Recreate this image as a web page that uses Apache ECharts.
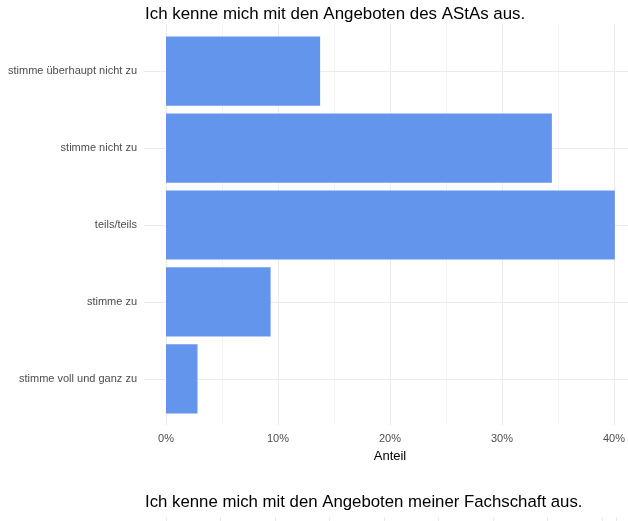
<!DOCTYPE html>
<html><head><meta charset="utf-8">
<script src="https://cdn.jsdelivr.net/npm/echarts@6/dist/echarts.min.js"></script>
<style>html,body{margin:0;padding:0;background:#fff}#c{width:628px;height:521px}</style>
</head><body><div id="c"></div>
<script>
const categories = ['stimme überhaupt nicht zu','stimme nicht zu','teils/teils','stimme zu','stimme voll und ganz zu'];
const values = [13.7, 34.3, 39.9, 9.3, 2.8];
const titleText = 'Ich kenne mich mit den Angeboten des AStAs aus.';
const nextTitleText = 'Ich kenne mich mit den Angeboten meiner Fachschaft aus.';
const FONT = 'Liberation Sans, Arial, sans-serif';
const chart = echarts.init(document.getElementById('c'), null, {renderer:'canvas'});
chart.setOption({
  animation:false,
  backgroundColor:'#fff',
  title:[
    {text:titleText,left:145,top:6,padding:0,textStyle:{fontFamily:FONT,fontSize:16.9,fontWeight:'normal',color:'#000'}},
    {text:nextTitleText,left:145,top:494,padding:0,textStyle:{fontFamily:FONT,fontSize:16.8,fontWeight:'normal',color:'#000'}}
  ],
  grid:[
    {left:166,right:12,top:32.7,bottom:103.7},
    {left:166,right:12,top:24,bottom:96},
    {left:166,right:12,top:517,bottom:-60}
  ],
  xAxis:[
    {gridIndex:0,type:'value',min:0,max:40,show:false},
    {gridIndex:1,type:'value',min:0,max:40,interval:10,
     axisLine:{show:false},axisTick:{show:false},
     axisLabel:{formatter:'{value}%',color:'#4d4d4d',fontFamily:FONT,fontSize:11,margin:8},
     splitLine:{show:true,lineStyle:{color:'#ebebeb',width:1}},
     minorTick:{show:false,splitNumber:2},
     minorSplitLine:{show:true,lineStyle:{color:'#f4f4f4',width:1}},
     name:'Anteil',nameLocation:'middle',nameGap:25,
     nameTextStyle:{color:'#000',fontFamily:FONT,fontSize:13}},
    {gridIndex:2,type:'value',min:0,max:8.26,interval:1,
     axisLine:{show:false},axisTick:{show:false},axisLabel:{show:false},
     splitLine:{show:true,lineStyle:{color:'#ebebeb',width:1}}}
  ],
  yAxis:[
    {gridIndex:0,type:'category',data:categories,inverse:true,
     axisLine:{show:false},
     axisTick:{show:true,alignWithLabel:true,inside:true,length:470,lineStyle:{color:'#ebebeb'}},
     axisLabel:{color:'#4d4d4d',fontFamily:FONT,fontSize:11,margin:29},
     splitLine:{show:false}},
    {gridIndex:0,type:'category',data:categories,inverse:true,position:'left',
     axisLine:{show:false},
     axisTick:{show:true,alignWithLabel:true,inside:false,length:22,lineStyle:{color:'#ebebeb'}},
     axisLabel:{show:false},splitLine:{show:false}},
    {gridIndex:1,type:'value',show:false},
    {gridIndex:2,type:'value',show:false}
  ],
  series:[{
    type:'bar',xAxisIndex:0,yAxisIndex:0,data:values,barWidth:'90%',
    itemStyle:{color:'#6495ED'},z:3
  }]
});
</script></body></html>
